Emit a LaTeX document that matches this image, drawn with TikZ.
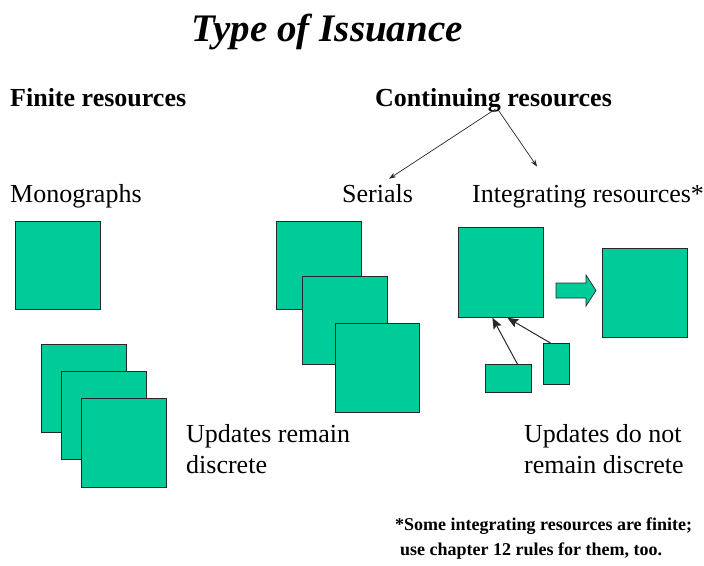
\documentclass[tikz,border=0pt]{standalone}
\usepackage{fontspec}
\setmainfont{Liberation Serif}
\usetikzlibrary{arrows.meta}
\definecolor{tealbox}{RGB}{0,204,153}
\definecolor{edge}{RGB}{40,40,40}
\begin{document}
\begin{tikzpicture}[x=1pt,y=-1pt,
  sq/.style={draw=edge, line width=0.8pt, fill=tealbox, inner sep=0pt, anchor=north west},
  lbl/.style={anchor=base west, inner sep=0pt, font=\fontsize{26}{30}\selectfont},
  hdr/.style={anchor=base west, inner sep=0pt, font=\fontsize{26}{30}\selectfont\bfseries},
  note/.style={anchor=base west, inner sep=0pt, font=\fontsize{18}{21}\selectfont\bfseries},
  thinarr/.style={draw=edge, line width=0.7pt, -{Stealth[length=7pt,width=5pt]}},
  updarr/.style={draw=edge, line width=1pt, -{Stealth[length=11pt,width=9pt,inset=2pt]}}]
\useasboundingbox (0,0) rectangle (704,565);
\fill[white] (0,0) rectangle (704,565);

% title
\node[anchor=base, inner sep=0pt, font=\fontsize{39}{44}\selectfont\bfseries\itshape] (title) at (327,41) {Type of Issuance};

% headers
\node[hdr] (finite) at (10,106) {Finite resources};
\node[hdr] (cont) at (375,106) {Continuing resources};

% labels
\node[lbl] (mono) at (10,202) {Monographs};
\node[lbl] (serials) at (342,202) {Serials};
\node[lbl] (irtext) at (472,202) {Integrating resources*};

% arrows from Continuing resources
\draw[thinarr] ([xshift=2pt,yshift=-3pt]cont.base) -- ([xshift=11.5pt,yshift=5pt]serials.north);
\draw[thinarr] ([xshift=4pt,yshift=-3pt]cont.base) -- ([xshift=-51pt,yshift=18pt]irtext.north);

% monographs
\node[sq, minimum width=85pt, minimum height=88pt] (monobox) at (15,221) {};
\node[sq, minimum width=85pt, minimum height=88pt] (st1) at (41,344) {};
\node[sq, minimum width=85pt, minimum height=88pt] (st2) at (61,371) {};
\node[sq, minimum width=85pt, minimum height=89pt] (st3) at (81,398) {};

% serials
\node[sq, minimum width=85pt, minimum height=88pt] (se1) at (276,221) {};
\node[sq, minimum width=85pt, minimum height=88pt] (se2) at (302,276) {};
\node[sq, minimum width=84pt, minimum height=89pt] (se3) at (335,323) {};

% integrating resources
\node[sq, minimum width=85pt, minimum height=90pt] (ir) at (458,227) {};
\node[sq, minimum width=85pt, minimum height=89pt] (irnew) at (602,248) {};
\node[sq, minimum width=46pt, minimum height=28pt] (sb1) at (485,364) {};
\node[sq, minimum width=26pt, minimum height=41pt] (sb2) at (543,343) {};

% block arrow
\draw[edge, line width=0.7pt, fill=tealbox, line join=miter]
  (556,283) -- (586,283) -- (586,275) -- (596,290.5) -- (586,306) -- (586,298) -- (556,298) -- cycle;

% update arrows
\draw[updarr] ([xshift=9pt]sb1.north) -- ([xshift=-8.5pt]ir.south);
\draw[updarr] ([xshift=-6pt]sb2.north) -- ([xshift=6.5pt]ir.south);

% captions
\node[lbl] (upd1a) at (186,442) {Updates remain};
\node[lbl] (upd1b) at (186,473) {discrete};
\node[lbl] (upd2a) at (524,442) {Updates do not};
\node[lbl] (upd2b) at (524,473) {remain discrete};

% footnote
\node[note] (fn1) at (395,530) {*Some integrating resources are finite;};
\node[note] (fn2) at (400,555) {use chapter 12 rules for them, too.};
\end{tikzpicture}
\end{document}
